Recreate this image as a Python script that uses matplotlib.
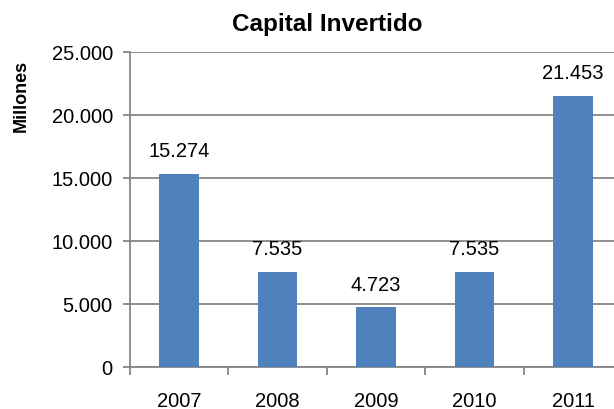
import matplotlib
matplotlib.use("Agg")
import matplotlib.pyplot as plt
from matplotlib.ticker import FixedLocator

years = ["2007", "2008", "2009", "2010", "2011"]
values = [15274, 7535, 4723, 7535, 21453]
yticks = [0, 5000, 10000, 15000, 20000, 25000]
ytick_labels = ["0", "5.000", "10.000", "15.000", "20.000", "25.000"]
value_labels = ["15.274", "7.535", "4.723", "7.535", "21.453"]

plt.rcParams['font.family'] = ['Liberation Sans', 'DejaVu Sans']

fig = plt.figure(figsize=(6.14, 4.10), dpi=100)
ax = fig.add_axes([129.5/614, 42/410, 493/614, 315.5/410])

x = list(range(len(years)))
ax.bar(x, values, width=0.4, color="#4F81BD", zorder=3)
for xi, v, lab in zip(x, values, value_labels):
    ax.annotate(lab, (xi, v), xytext=(0, 10), textcoords="offset points",
                ha="center", va="bottom", fontsize=14.5, color="#000000")

ax.set_xlim(-0.5, 4.5)
ax.set_ylim(0, 25000)
ax.set_yticks(yticks)
ax.set_yticklabels(ytick_labels, fontsize=14.5)
ax.set_xticks(x)
ax.set_xticklabels(years, fontsize=14.5)
ax.xaxis.set_minor_locator(FixedLocator([-0.5, 0.5, 1.5, 2.5, 3.5, 4.5]))
ax.tick_params(axis="x", which="major", length=0, pad=17)
ax.tick_params(axis="x", which="minor", length=6, color="#868686", width=1.3)
ax.tick_params(axis="y", length=5, color="#868686", width=1.3, pad=7)

ax.grid(axis="y", color="#868686", linewidth=1.3, zorder=0)
for s in ["top", "right"]:
    ax.spines[s].set_visible(False)
for s in ["left", "bottom"]:
    ax.spines[s].set_color("#868686")
    ax.spines[s].set_linewidth(1.3)

fig.text(327/614, 1 - 24/410, "Capital Invertido", ha="center", va="center",
         fontsize=17.5, fontweight="bold")
fig.text(21/614, 1 - 96/410, "Millones", ha="center", va="center",
         rotation=90, fontsize=13, fontweight="bold")

fig.savefig("out.png", dpi=100)
